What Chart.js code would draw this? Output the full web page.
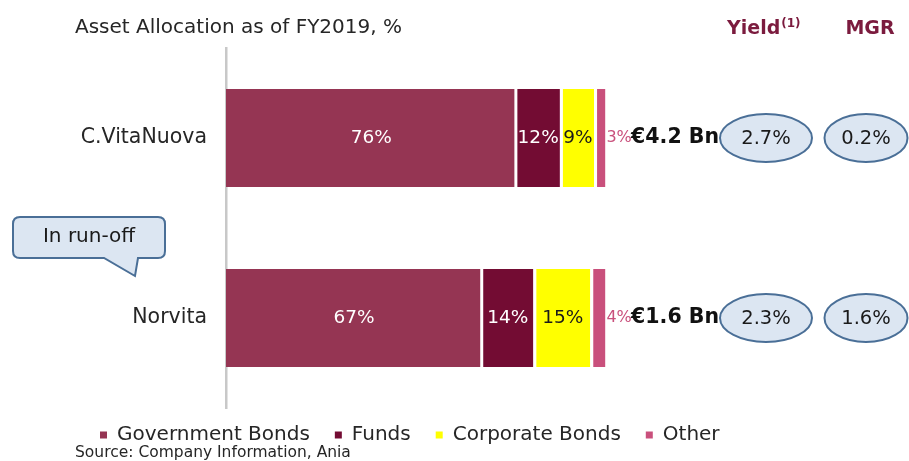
<!DOCTYPE html>
<html><head><meta charset="utf-8">
<script src="https://cdn.jsdelivr.net/npm/chart.js@4/dist/chart.umd.min.js"></script>
<style>html,body{margin:0;padding:0;background:#fff;}#wrap{width:909px;height:461px;position:relative;}</style>
</head><body><div id="wrap"><canvas id="c" width="909" height="461"></canvas></div>
<script>
// ---- data ----
const categories = ['C.VitaNuova', 'Norvita'];
const seriesNames = ['Government Bonds', 'Funds', 'Corporate Bonds', 'Other'];
const governmentBonds = [76, 67];
const funds = [12, 14];
const corporateBonds = [9, 15];
const other = [3, 4];
const totalAssets = ['€4.2 Bn', '€1.6 Bn'];
const yieldValues = ['2.7%', '2.3%'];
const mgrValues = ['0.2%', '1.6%'];
const titleText = 'Asset Allocation as of FY2019, %';
const sourceText = 'Source: Company Information, Ania';
const calloutText = 'In run-off';

// ---- styles ----
const FONT = "'DejaVu Sans', sans-serif";
const colours = ['#953553', '#730C33', '#FFFF00', '#C9507C'];
const labelColours = ['#FFFFFF', '#FFFFFF', '#1A1A1A', '#C9507C'];
const maroon = '#7B1B3E';
const ellipseFill = '#DCE6F2';
const ellipseStroke = '#4A6F97';

const seriesValues = [governmentBonds, funds, corporateBonds, other];
const datasets = seriesNames.map((name, i) => ({
  label: name,
  data: seriesValues[i],
  backgroundColor: colours[i],
  borderColor: '#FFFFFF',
  borderWidth: i === 0 ? 0 : {left: 3, right: 0, top: 0, bottom: 0},
  borderSkipped: false,
  barPercentage: 0.545,
  categoryPercentage: 1.0
}));

function font(size, weight) { return (weight ? weight + ' ' : '') + size + 'px ' + FONT; }

const decorPlugin = {
  id: 'decor',
  beforeLayout(chart) {
    const lg = chart.legend;
    if (lg && !lg._patched) {
      const orig = lg.fit.bind(lg);
      lg.fit = function () { orig(); this.height = 53; };
      lg._patched = true;
    }
  },
  afterLayout(chart) {
    const lg = chart.legend;
    if (lg) { lg.top -= 8; lg.bottom -= 8; }
  },
  afterDraw(chart) {
    const ctx = chart.ctx;
    const ys = chart.scales.y;
    ctx.save();
    // title
    ctx.fillStyle = '#262626';
    ctx.font = font(20);
    ctx.textAlign = 'left'; ctx.textBaseline = 'middle';
    ctx.fillText(titleText, 75, 28);
    // headers
    ctx.fillStyle = maroon;
    ctx.font = font(19, 'bold');
    ctx.textAlign = 'left';
    ctx.fillText('Yield', 727, 29);
    const yw = ctx.measureText('Yield').width;
    ctx.font = font(12, 'bold');
    ctx.fillText('(1)', 727 + yw + 1, 24);
    ctx.font = font(19, 'bold');
    ctx.textAlign = 'center';
    ctx.fillText('MGR', 870, 29);
    // source
    ctx.fillStyle = '#262626';
    ctx.font = font(15.5);
    ctx.textAlign = 'left';
    ctx.fillText(sourceText, 75, 453);
    // bar labels
    chart.data.datasets.forEach((ds, di) => {
      const meta = chart.getDatasetMeta(di);
      meta.data.forEach((bar, i) => {
        const txt = ds.data[i] + '%';
        ctx.fillStyle = labelColours[di];
        ctx.textBaseline = 'middle';
        if (di === 3) {
          ctx.font = font(16);
          ctx.textAlign = 'left';
          ctx.fillText(txt, bar.x + 1, bar.y);
        } else {
          ctx.font = font(18.5);
          ctx.textAlign = 'center';
          ctx.fillText(txt, (bar.x + bar.base) / 2 + 1, bar.y);
        }
      });
    });
    // totals, yield and MGR ellipses
    categories.forEach((c, i) => {
      const y = ys.getPixelForValue(i);
      ctx.fillStyle = '#111';
      ctx.font = font(20.5, 'bold');
      ctx.textAlign = 'right'; ctx.textBaseline = 'middle';
      ctx.fillText(totalAssets[i], 719, y);
      [[766, 46, yieldValues[i]], [866, 41.5, mgrValues[i]]].forEach(([cx, rx, v]) => {
        ctx.beginPath();
        ctx.ellipse(cx, y, rx, 24, 0, 0, Math.PI * 2);
        ctx.fillStyle = ellipseFill; ctx.fill();
        ctx.lineWidth = 2; ctx.strokeStyle = ellipseStroke; ctx.stroke();
        ctx.fillStyle = '#1A1A1A';
        ctx.font = font(19.5);
        ctx.textAlign = 'center';
        ctx.fillText(v, cx, y + 1);
      });
    });
    // callout
    ctx.beginPath();
    const L = 13, T = 217, R = 165, B = 258, r = 7;
    ctx.moveTo(L + r, T);
    ctx.lineTo(R - r, T); ctx.quadraticCurveTo(R, T, R, T + r);
    ctx.lineTo(R, B - r); ctx.quadraticCurveTo(R, B, R - r, B);
    ctx.lineTo(138, B); ctx.lineTo(135, 276); ctx.lineTo(104, B);
    ctx.lineTo(L + r, B); ctx.quadraticCurveTo(L, B, L, B - r);
    ctx.lineTo(L, T + r); ctx.quadraticCurveTo(L, T, L + r, T);
    ctx.closePath();
    ctx.fillStyle = ellipseFill; ctx.fill();
    ctx.lineWidth = 2; ctx.strokeStyle = ellipseStroke; ctx.stroke();
    ctx.fillStyle = '#1A1A1A';
    ctx.font = font(20);
    ctx.textAlign = 'center'; ctx.textBaseline = 'middle';
    ctx.fillText(calloutText, 89, 237);
    ctx.restore();
  }
};

new Chart(document.getElementById('c'), {
  type: 'bar',
  data: { labels: categories, datasets },
  options: {
    indexAxis: 'y',
    responsive: false,
    animation: false,
    devicePixelRatio: 1,
    layout: { padding: { left: 75, top: 48, right: 0, bottom: 0 } },
    scales: {
      x: { stacked: true, display: false, min: 0, max: 180 },
      y: {
        stacked: true,
        grid: { display: false, drawTicks: false },
        border: { display: true, color: '#C8C8C8', width: 2.5 },
        ticks: { color: '#262626', font: { size: 20.5, family: FONT }, padding: 19 },
        afterFit(scale) { scale.width = 151; }
      }
    },
    plugins: {
      tooltip: { enabled: false },
      legend: {
        position: 'bottom',
        align: 'start',
        labels: {
          color: '#262626',
          font: { size: 20, family: FONT },
          boxWidth: 7, boxHeight: 7, padding: 25,
          generateLabels(chart) {
            return chart.data.datasets.map((ds, i) => ({
              text: ds.label, fillStyle: ds.backgroundColor, strokeStyle: ds.backgroundColor,
              lineWidth: 0, hidden: false, datasetIndex: i, fontColor: '#262626'
            }));
          }
        }
      }
    }
  },
  plugins: [decorPlugin]
});
</script></body></html>
